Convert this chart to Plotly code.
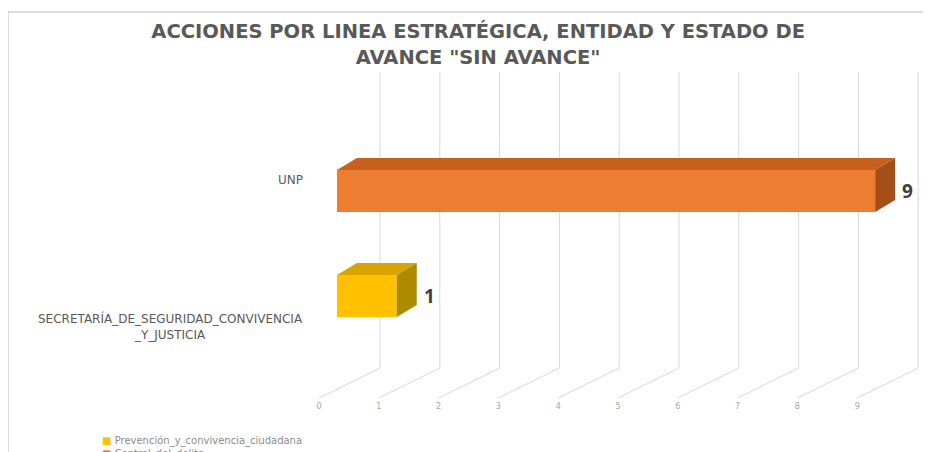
import plotly.graph_objects as go

# ---- data ----
categories = ["SECRETARÍA_DE_SEGURIDAD_CONVIVENCIA<br>_Y_JUSTICIA", "UNP"]
series_names = ["Prevención_y_convivencia_ciudadana", "Control_del_delito"]
values = [1, 9]                      # one bar per entity
bar_series = [0, 1]                  # which series each bar belongs to
x_ticks = [0, 1, 2, 3, 4, 5, 6, 7, 8, 9]

# ---- styles ----
front_cols = ["#FFC000", "#ED7D31"]
top_cols = ["#D9A400", "#C7601E"]
side_cols = ["#AD8A00", "#A34F17"]
grid_col = "#D9D9D9"
BASE = 0.30        # bar front-face offset from floor front
DX, DY = 0.334, 0.114   # 3D depth offsets
BW = 0.40          # bar thickness
FLOOR_F, FLOOR_B, WALL_TOP = -0.971, -0.686, 2.133
BACK_DX = 1.02

fig = go.Figure()

# gridlines (floor diagonals + back wall verticals), drawn below all traces
for k in x_ticks:
    fig.add_shape(type="path", layer="below",
                  path=f"M {k},{FLOOR_F} L {k + BACK_DX},{FLOOR_B} L {k + BACK_DX},{WALL_TOP}",
                  line=dict(color=grid_col, width=1))

ycat = list(range(len(categories)))
# front faces via bar trace
fig.add_trace(go.Bar(y=ycat, x=values, base=[BASE] * len(values), orientation="h", width=BW,
                     marker=dict(color=[front_cols[s] for s in bar_series], line=dict(width=0)),
                     showlegend=False))

# top and side faces
for yc, v, s in zip(ycat, values, bar_series):
    x0, x1 = BASE, BASE + v
    yb, yt = yc - BW / 2, yc + BW / 2
    fig.add_trace(go.Scatter(x=[x0, x1, x1 + DX, x0 + DX, x0], y=[yt, yt, yt + DY, yt + DY, yt],
                             fill="toself", fillcolor=top_cols[s], mode="lines",
                             line=dict(width=0, color=top_cols[s]), hoverinfo="skip", showlegend=False))
    fig.add_trace(go.Scatter(x=[x1, x1 + DX, x1 + DX, x1, x1], y=[yb, yb + DY, yt + DY, yt, yb],
                             fill="toself", fillcolor=side_cols[s], mode="lines",
                             line=dict(width=0, color=side_cols[s]), hoverinfo="skip", showlegend=False))
    fig.add_annotation(x=x1 + DX, y=yc, text=str(v), showarrow=False, xanchor="left", xshift=5,
                       yanchor="middle",
                       font=dict(family="Open Sans", size=19, color="#404040", weight="bold"))

# category labels
label_shifts = [-30, 11]
for yc, lab, sh in zip(ycat, categories, label_shifts):
    fig.add_annotation(xref="paper", x=0.008, y=yc, yshift=sh, text=lab, showarrow=False,
                       xanchor="right", yanchor="middle", align="center",
                       font=dict(family="DejaVu Sans", size=12, color="#595959"))

# legend (single block)
legend_text = "<br>".join(f"<span style='color:{front_cols[i]}'>■</span> {name}"
                          for i, name in enumerate(series_names))
fig.add_annotation(xref="paper", yref="paper", x=-0.3226, y=-0.118, xanchor="left", yanchor="top",
                   yshift=6, align="left", text=legend_text, showarrow=False,
                   font=dict(family="DejaVu Sans", size=10, color="#8C8C8C"))

# chart border
fig.add_shape(type="line", xref="paper", yref="paper", x0=-0.471, x1=-0.471, y0=1.176, y1=-0.25,
              line=dict(color="#D0D0D0", width=1.5))
fig.add_shape(type="line", xref="paper", yref="paper", x0=-0.471, x1=1.05, y0=1.176, y1=1.176,
              line=dict(color="#D0D0D0", width=1.5))

fig.update_layout(
    width=931, height=452,
    margin=dict(l=292, r=19, t=62, b=60),
    paper_bgcolor="white", plot_bgcolor="white",
    title=dict(text='ACCIONES POR LINEA ESTRATÉGICA, ENTIDAD Y ESTADO DE<br>AVANCE "SIN AVANCE"',
               x=0.505, xanchor="center", y=0.9326, yanchor="middle",
               font=dict(family="DejaVu Sans", size=19.5, color="#595959", weight="bold")),
    xaxis=dict(range=[-0.318, 10.05], tickvals=x_ticks, showgrid=False, zeroline=False, showline=False,
               tickfont=dict(family="DejaVu Sans", size=8, color="#A6A6A6"), fixedrange=True),
    yaxis=dict(range=[-0.990, 2.152], showgrid=False, zeroline=False, showline=False,
               showticklabels=False, fixedrange=True),
    showlegend=False,
)

fig.write_html("out.html")
